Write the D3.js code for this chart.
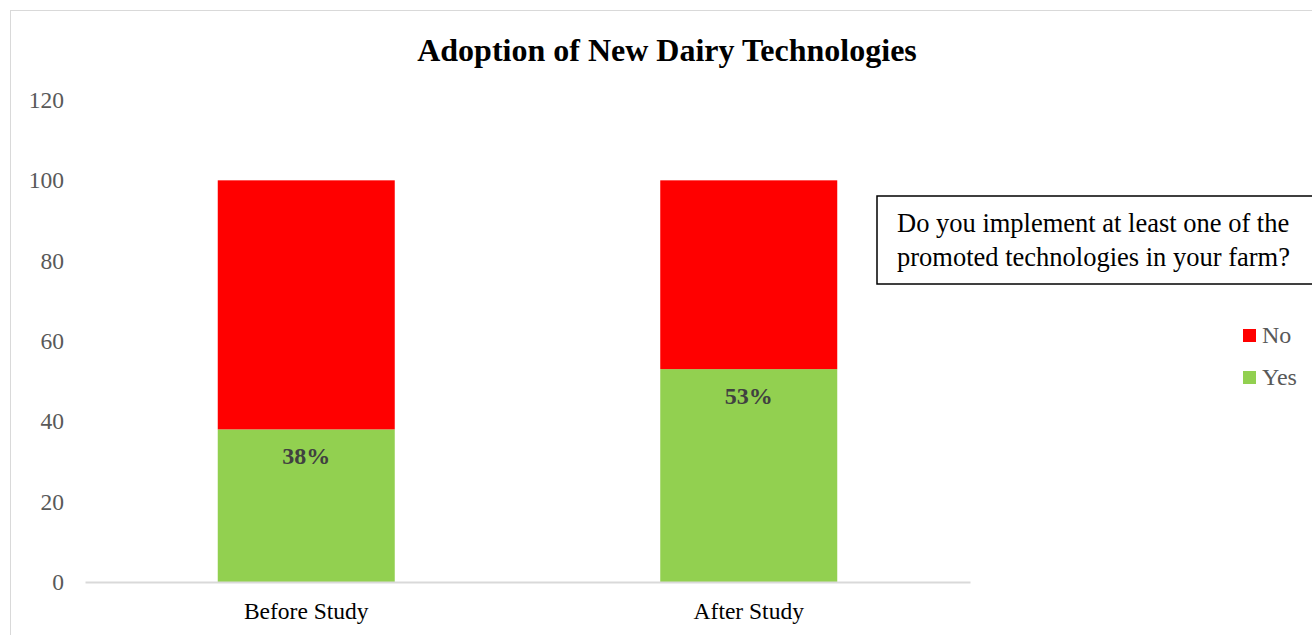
<!DOCTYPE html>
<html>
<head>
<meta charset="utf-8">
<script src="https://cdn.jsdelivr.net/npm/d3@7"></script>
<style>
  body { margin: 0; background: #fff; }
  svg { display: block; font-family: "Liberation Serif", "Times New Roman", serif; }
</style>
</head>
<body>
<div id="chart"></div>
<script>
const categories = ["Before Study", "After Study"];
const yesValues = [38, 53];
const noValues = [62, 47];
const yesLabels = ["38%", "53%"];
const seriesNames = ["No", "Yes"];
const yTicks = [0, 20, 40, 60, 80, 100, 120];

const width = 1312, height = 635;
const margin = { top: 100, left: 85, right: 342, bottom: 53 };

const svg = d3.select("#chart").append("svg")
  .attr("width", width)
  .attr("height", height);

// chart area border
svg.append("rect")
  .attr("x", 10.5).attr("y", 10.5)
  .attr("width", width + 20).attr("height", height + 20)
  .attr("fill", "#fff")
  .attr("stroke", "#d9d9d9");

const x = d3.scaleBand()
  .domain(categories)
  .range([margin.left, width - margin.right])
  .paddingInner(0.6)
  .paddingOuter(0.3);

const y = d3.scaleLinear()
  .domain([0, 120])
  .range([582, 100]);

const colors = { Yes: "#92d050", No: "#ff0000" };

const rows = categories.map((c, i) => ({ cat: c, Yes: yesValues[i], No: noValues[i], label: yesLabels[i] }));
const stack = d3.stack().keys(["Yes", "No"])(rows);

// bars
svg.append("g")
  .selectAll("g")
  .data(stack)
  .join("g")
  .attr("fill", d => colors[d.key])
  .selectAll("rect")
  .data(d => d)
  .join("rect")
  .attr("x", d => x(d.data.cat))
  .attr("width", x.bandwidth())
  .attr("y", d => y(d[1]))
  .attr("height", d => y(d[0]) - y(d[1]));

// y axis (labels only)
const yAxis = svg.append("g")
  .attr("transform", `translate(${margin.left},0)`)
  .call(d3.axisLeft(y).tickValues(yTicks).tickSize(0).tickPadding(21));
yAxis.select(".domain").remove();
yAxis.selectAll("text")
  .attr("font-family", "Liberation Serif, Times New Roman, serif")
  .attr("font-size", 23.5)
  .attr("fill", "#595959");

// x axis
const xAxis = svg.append("g")
  .attr("transform", `translate(0,${y(0)})`)
  .call(d3.axisBottom(x).tickSize(0).tickPadding(20));
xAxis.select(".domain")
  .attr("stroke", "#d9d9d9")
  .attr("stroke-width", 2);
xAxis.selectAll("text")
  .attr("font-family", "Liberation Serif, Times New Roman, serif")
  .attr("font-size", 23.5)
  .attr("fill", "#000");

// data labels
svg.append("g")
  .selectAll("text")
  .data(rows)
  .join("text")
  .attr("x", d => x(d.cat) + x.bandwidth() / 2)
  .attr("y", d => y(d.Yes) + 35)
  .attr("text-anchor", "middle")
  .attr("font-size", 24)
  .attr("font-weight", "bold")
  .attr("fill", "#404040")
  .text(d => d.label);

// title
svg.append("text")
  .attr("x", 667)
  .attr("y", 61)
  .attr("text-anchor", "middle")
  .attr("font-size", 32)
  .attr("font-weight", "bold")
  .attr("fill", "#000")
  .text("Adoption of New Dairy Technologies");

// annotation box
const note = svg.append("g");
note.append("rect")
  .attr("x", 877).attr("y", 196)
  .attr("width", 460).attr("height", 88)
  .attr("fill", "#fff")
  .attr("stroke", "#000")
  .attr("stroke-width", 1.5);
note.append("text")
  .attr("font-size", 26.5)
  .attr("fill", "#000")
  .selectAll("tspan")
  .data(["Do you implement at least one of the", "promoted technologies in your farm?"])
  .join("tspan")
  .attr("x", 897)
  .attr("y", (d, i) => 232 + i * 34)
  .text(d => d);

// legend
const legend = svg.append("g")
  .selectAll("g")
  .data(seriesNames)
  .join("g")
  .attr("transform", (d, i) => `translate(1243, ${329 + i * 42})`);
legend.append("rect")
  .attr("width", 13).attr("height", 13)
  .attr("fill", d => colors[d]);
legend.append("text")
  .attr("x", 19)
  .attr("y", 14)
  .attr("font-size", 24)
  .attr("fill", "#595959")
  .text(d => d);
</script>
</body>
</html>
